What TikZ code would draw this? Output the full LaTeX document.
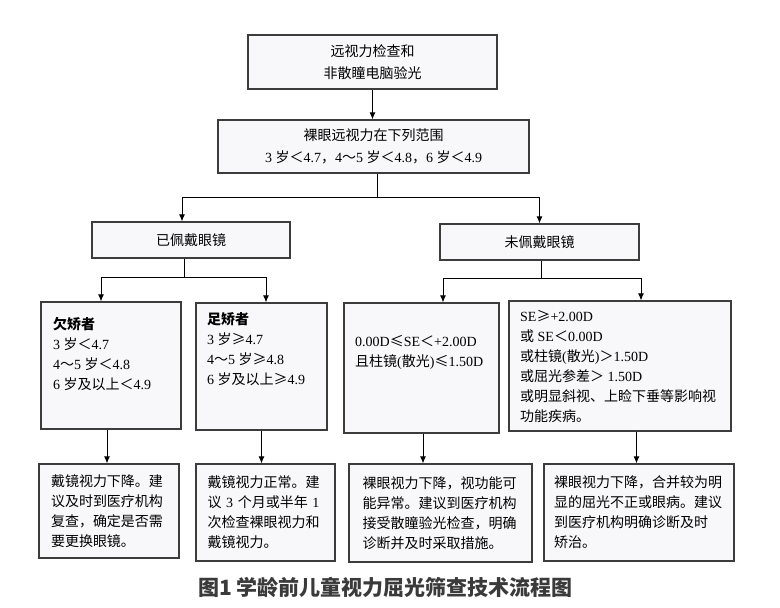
\documentclass[tikz,border=0pt]{standalone}
\usepackage{fontspec}
\setmainfont{Liberation Serif}
\newfontfamily\cjk{Noto Sans CJK SC}
\usetikzlibrary{arrows.meta}
% automatic switching between Latin and CJK fonts
\XeTeXinterchartokenstate=1
\newXeTeXintercharclass\cjkcls
\newcount\mycnt
\mycnt="3000
\loop \XeTeXcharclass\mycnt=\cjkcls \advance\mycnt by 1 \ifnum\mycnt<"3040 \repeat
\mycnt="4E00
\loop \XeTeXcharclass\mycnt=\cjkcls \advance\mycnt by 1 \ifnum\mycnt<"A000 \repeat
\mycnt="FF00
\loop \XeTeXcharclass\mycnt=\cjkcls \advance\mycnt by 1 \ifnum\mycnt<"FFF0 \repeat
\XeTeXcharclass"2264=\cjkcls
\XeTeXcharclass"2265=\cjkcls
\XeTeXinterchartoks 0 \cjkcls = {\cjk}
\XeTeXinterchartoks 4095 \cjkcls = {\cjk}
\XeTeXinterchartoks \cjkcls 0 = {\rmfamily}
\XeTeXinterchartoks \cjkcls 4095 = {\rmfamily}
\definecolor{boxline}{HTML}{3C3C3C}
\definecolor{boxfill}{HTML}{F8F8FA}
\definecolor{capgray}{HTML}{3A3A3A}
\tikzset{
  box/.style={draw=boxline, fill=boxfill, line width=1.1pt, inner sep=0pt,
    font=\fontsize{14pt}{20pt}\selectfont},
  txt/.style={inner sep=0pt, align=left, font=\fontsize{14pt}{20pt}\selectfont},
  conn/.style={draw=black, line width=1pt},
  arr/.style={conn, -{Latex[length=7pt,width=6pt]}},
}
\begin{document}
\begin{tikzpicture}[x=1pt,y=-1pt]
\fill[white] (0,0) rectangle (780,608);
\useasboundingbox (0,0) rectangle (780,608);

% level 1 and 2
\node[box, minimum width=249, minimum height=54, align=center,
  font=\fontsize{14pt}{22pt}\selectfont] (b1) at (372.5,62) {远视力检查和\\非散瞳电脑验光};
\node[box, minimum width=311, minimum height=53, align=center,
  font=\fontsize{14pt}{22pt}\selectfont] (b2) at (373.5,146.5) {裸眼远视力在下列范围\\3 岁＜4.7，4～5 岁＜4.8，6 岁＜4.9};

% level 3
\node[box, minimum width=198, minimum height=36] (l1) at (191,240) {已佩戴眼镜};
\node[box, minimum width=199, minimum height=36] (r1) at (539.5,242) {未佩戴眼镜};

% level 4
\node[box, minimum width=140, minimum height=127] (q) at (111,365.5) {};
\node[box, minimum width=131, minimum height=127] (z) at (261.5,366.5) {};
\node[box, minimum width=155, minimum height=130] (n) at (421.5,368) {};
\node[box, minimum width=222, minimum height=130] (s) at (620,366) {};
\node[txt, anchor=west] (qt) at (53,354) {{\bfseries 欠矫者}\\3 岁＜4.7\\4～5 岁＜4.8\\6 岁及以上＜4.9};
\node[txt, anchor=west] (zt) at (207,349) {{\bfseries 足矫者}\\3 岁≥4.7\\4～5 岁≥4.8\\6 岁及以上≥4.9};
\node[txt, anchor=west] (nt) at (355,352) {0.00D≤SE＜+2.00D\\且柱镜(散光)≤1.50D};
\node[txt, anchor=west] (st) at (520,367) {SE≥+2.00D\\或 SE＜0.00D\\或柱镜(散光)＞1.50D\\或屈光参差＞ 1.50D\\或明显斜视、上睑下垂等影响视\\功能疾病。};

% level 5
\node[box, minimum width=140, minimum height=94, text width=116, align=left] (A) at (109,511)
  {戴镜视力下降。建\\议及时到医疗机构\\复查，确定是否需\\要更换眼镜。};
\node[box, minimum width=139, minimum height=97, text width=116, align=left] (B) at (265.5,512.5)
  {戴镜视力正常。建\\议 3 个月或半年 1\\次检查裸眼视力和\\戴镜视力。};
\node[box, minimum width=183, minimum height=98, text width=156, align=left] (C) at (440.5,513)
  {裸眼视力下降，视功能可\\能异常。建议到医疗机构\\接受散瞳验光检查，明确\\诊断并及时采取措施。};
\node[box, minimum width=190, minimum height=97, text width=170, align=left] (D) at (639,512.5)
  {裸眼视力下降，合并较为明\\显的屈光不正或眼病。建议\\到医疗机构明确诊断及时\\矫治。};

% caption
\node[inner sep=0pt, text=capgray, font=\fontsize{21pt}{24pt}\selectfont] (cap) at (385.5,588)
  {\XeTeXinterchartokenstate=0 \cjk\bfseries 图1 学龄前儿童视力屈光筛查技术流程图};

% connectors
\draw[arr] (b1.south) -- (b1.south |- b2.north);
\coordinate (j1) at (377,197);
\draw[conn] (j1 |- b2.south) -- (j1);
\draw[arr] (j1) -| ([xshift=-9pt]l1.north);
\draw[arr] (j1) -| (r1.north);

\coordinate (jl) at (184,277);
\draw[conn] (jl |- l1.south) -- (jl);
\draw[arr] (jl) -| ([xshift=-10pt]q.north);
\draw[arr] (jl) -| ([xshift=4.5pt]z.north);

\coordinate (jr) at (541,278);
\draw[conn] (jr |- r1.south) -- (jr);
\draw[arr] (jr) -| ([xshift=21.5pt]n.north);
\draw[arr] (jr) -| ([xshift=21pt]s.north);

\draw[arr] ([xshift=-4pt]q.south) -- ([xshift=-4pt]q.south |- A.north);
\draw[arr] (z.south) -- (z.south |- B.north);
\draw[arr] ([xshift=1.5pt]n.south) -- ([xshift=1.5pt]n.south |- C.north);
\draw[arr] ([xshift=16.5pt]s.south) -- ([xshift=16.5pt]s.south |- D.north);
\end{tikzpicture}
\end{document}
